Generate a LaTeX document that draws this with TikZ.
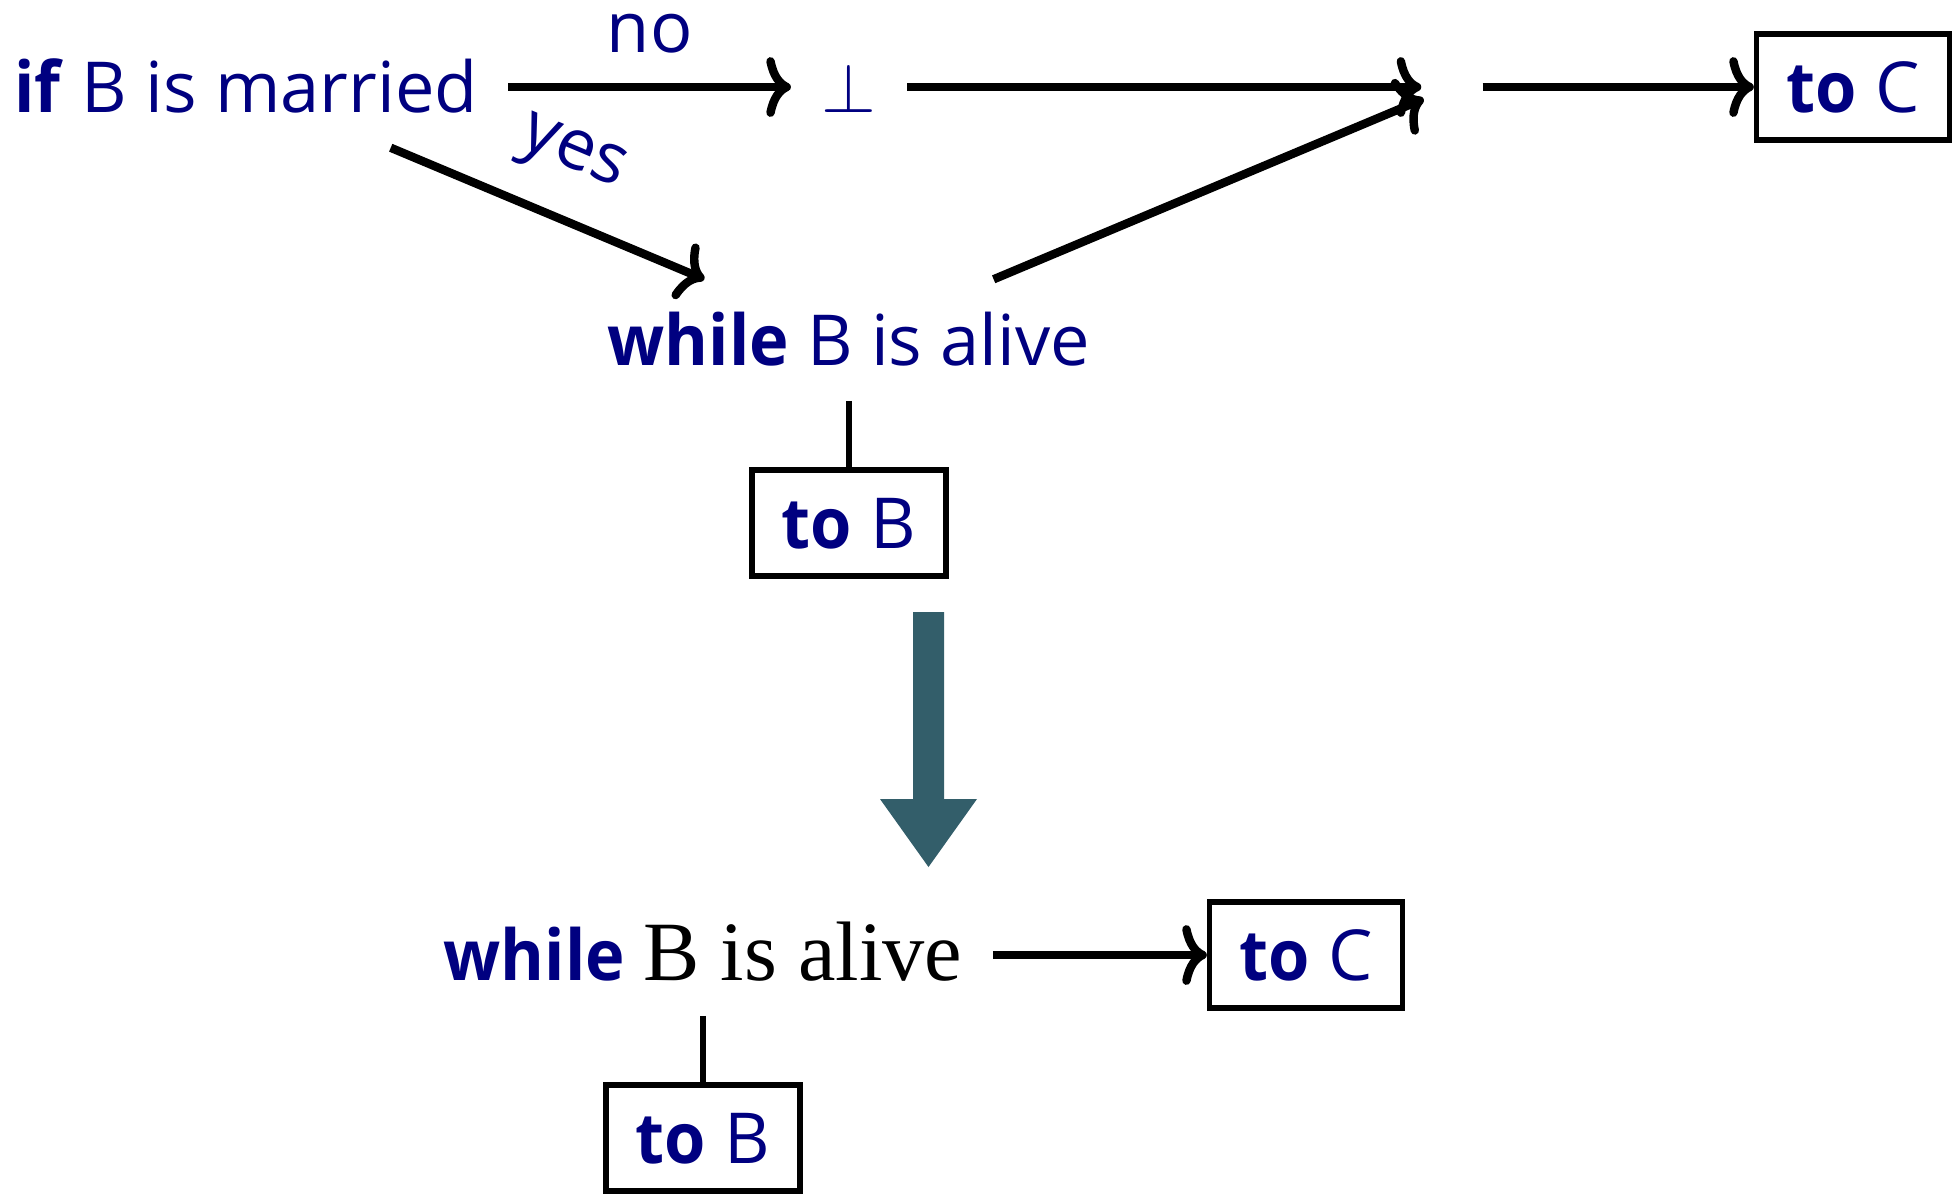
\documentclass[tikz,border=0pt]{standalone}
\usepackage{fix-cm}
\usepackage{fontspec}
\setmainfont{Open Sans}[BoldFeatures={FakeStretch=0.95}]
\newfontfamily\serifB{Liberation Serif}
\usetikzlibrary{arrows.meta}

\definecolor{kwblue}{RGB}{0,0,128}
\definecolor{steparrow}{RGB}{51,94,106}

\begin{document}
\begin{tikzpicture}[x=0.01cm, y=-0.01cm,
    txt/.style={text=kwblue, font=\fontsize{20}{24}\selectfont,
        inner xsep=0.3cm, inner ysep=0.35cm, text height=0.5cm, text depth=0pt},
    box/.style={txt, draw=black, line width=1.5pt, inner ysep=0.28cm},
    lbl/.style={text=kwblue, font=\fontsize{20}{24}\selectfont, inner sep=0.3cm},
    arr/.style={-{To[length=7pt,width=17pt]}, line width=2.4pt},
    stem/.style={line width=1.6pt}]
    \useasboundingbox (0,0) rectangle (1954,1193);

    % Top row: the test and its two branches
    \node[txt] (if) at (246,87) {\textbf{if} B is married};
    \node[txt] (bot) at (849,87) {$\perp$};
    \node[circle, minimum size=0.6cm, inner sep=0pt] (join) at (1452,87) {};
    \node[box] (toC) at (1853,87) {\textbf{to} C};

    % The loop under the yes branch
    \node[txt] (loop) at (849,340) {\textbf{while} B is alive};
    \node[box] (toB) at (849,523) {\textbf{to} B};

    \draw[arr] (if) -- node[lbl, above] {no} (bot);
    \draw[arr] (if) -- node[lbl, above, sloped] {yes} (loop);
    \draw[arr] (bot) -- (join);
    \draw[arr] (loop) -- (join);
    \draw[arr] (join) -- (toC);
    \draw[stem] (loop) -- (toB);

    % Big arrow down to the simplified form
    \fill[steparrow] (913,612) -- (944,612) -- (944,799) -- (977,799)
        -- (928.5,867) -- (880,799) -- (913,799) -- cycle;

    % Simplified loop
    \node[txt] (loop2) at (703,955) {\textbf{while} {\color{black}\serifB\fontsize{24}{29}\selectfont B is alive}};
    \node[box] (toC2) at (1306,955) {\textbf{to} C};
    \node[box] (toB2) at (703,1138) {\textbf{to} B};

    \draw[arr] (loop2) -- (toC2);
    \draw[stem] (loop2) -- (toB2);
\end{tikzpicture}
\end{document}
